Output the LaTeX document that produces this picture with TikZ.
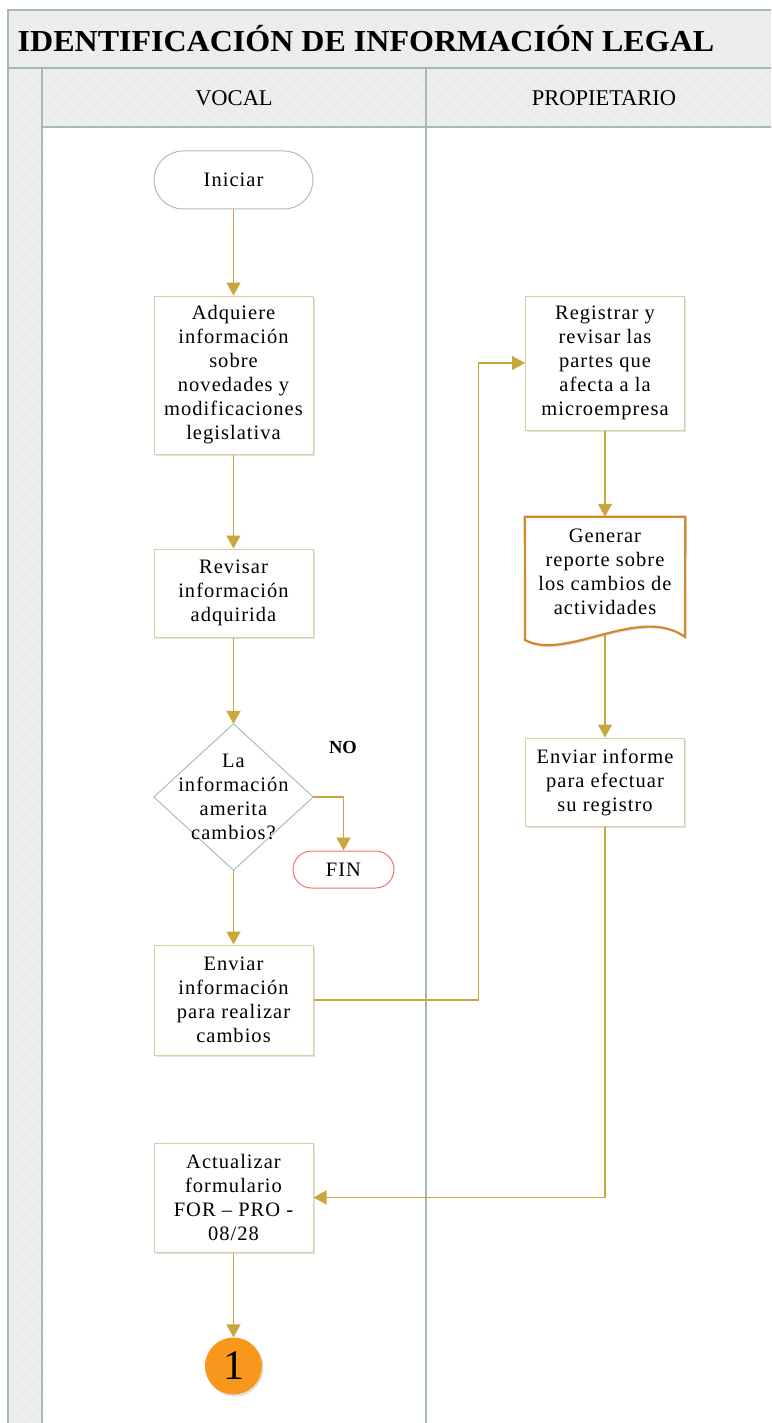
\documentclass[tikz,border=0pt]{standalone}
\usepackage{fontspec}
\setmainfont{Liberation Serif}
\newfontfamily\bodyfont{Liberation Serif}[LetterSpace=5]
\usetikzlibrary{arrows.meta,shadows,calc}
\definecolor{framec}{HTML}{A3BBB3}
\definecolor{headc}{HTML}{ECECEC}
\definecolor{linkc}{HTML}{C9A73D}
\definecolor{boxc}{HTML}{D9CDA3}
\definecolor{termc}{HTML}{A9BFB8}
\definecolor{finc}{HTML}{F07272}
\definecolor{docc}{HTML}{D38A2C}
\definecolor{conc}{HTML}{F7981D}
\tikzset{
  frameline/.style={draw=framec,line width=1.2pt},
  softshadow/.style={drop shadow={opacity=0.22,shadow xshift=1.6pt,shadow yshift=-1.8pt}},
  bodytext/.style={font=\bodyfont\fontsize{20.5}{24}\selectfont,align=center,text=black},
  stepbox/.style={bodytext,rectangle,draw=boxc,line width=1pt,fill=white,
    minimum width=159pt,inner sep=0pt,softshadow},
  terminal/.style={bodytext,rectangle,draw=termc,line width=1pt,fill=white,
    minimum width=159pt,minimum height=58pt,rounded corners=29pt,inner sep=0pt},
  finbox/.style={bodytext,rectangle,draw=finc,line width=1pt,fill=white,
    minimum width=101pt,minimum height=37pt,rounded corners=18.5pt,inner sep=0pt},
  decision/.style={bodytext,rectangle,minimum width=159pt,minimum height=146pt,inner sep=0pt},
  link/.style={draw=linkc,line width=1.6pt,-{Triangle[width=14pt,length=13pt]}},
}
\begin{document}
\begin{tikzpicture}[x=1pt,y=-1pt]
\clip (0,0) rectangle (771,1423);
\fill[white] (0,0) rectangle (771,1423);

% pool frame, title bar, header row and lane strip
\fill[headc] (8,10) rectangle (790,68);
\fill[headc] (8,68) rectangle (42,1440);
\fill[headc] (42,68) rectangle (790,127);
\begin{scope}
  \clip (8,10) rectangle (790,68);
  \foreach \k in {-80,-64,...,800} \draw[white,opacity=0.35,line width=0.8pt] (\k,10) -- ++(60,60);
\end{scope}
\begin{scope}
  \clip (8,68) rectangle (790,127) (8,127) rectangle (42,1440);
  \foreach \k in {-1500,-1484,...,800} \draw[white,opacity=0.35,line width=0.8pt] (\k,68) -- ++(1400,1400);
\end{scope}
\draw[frameline] (790,10) -- (8,10) -- (8,1440);
\draw[frameline] (8,68) -- (790,68);
\draw[frameline] (42,68) -- (42,1440);
\draw[frameline] (426,68) -- (426,1440);
\draw[frameline] (42,127) -- (790,127);

\node[font=\bfseries\fontsize{30.5}{34}\selectfont] (title) at (366,39) {\scalebox{1.05}[1]{IDENTIFICACIÓN DE INFORMACIÓN LEGAL}};
\node[font=\fontsize{22.5}{26}\selectfont] (lane1) at (234,98) {VOCAL};
\node[font=\fontsize{22.5}{26}\selectfont] (lane2) at (604,98) {PROPIETARIO};

% VOCAL lane
\node[terminal] (ini) at (233.5,180) {Iniciar};
\node[stepbox,minimum height=158pt] (adq) at (233.5,375)
  {Adquiere\\información\\sobre\\novedades y\\modificaciones\\legislativa};
\node[stepbox,minimum height=88pt] (rev) at (233.5,593)
  {Revisar\\información\\adquirida};
\node[decision] (dia) at (233.5,797) {};
\draw[draw=termc,line width=1pt,fill=white] (dia.north) -- (dia.east) -- (dia.south) -- (dia.west) -- cycle;
\node[bodytext] (diatext) at (dia.center) {La\\información\\amerita\\cambios?};
\node[font=\bfseries\fontsize{18.5}{20}\selectfont] (no) at (343,747) {NO};
\node[finbox] (fin) at (343.5,869.5) {FIN};
\node[stepbox,minimum height=110pt] (env) at (233.5,1000)
  {Enviar\\información\\para realizar\\cambios};
\node[stepbox,minimum height=109pt] (act) at (233.5,1197.5)
  {Actualizar\\formulario\\FOR – PRO -\\08/28};
\node[circle,fill=conc,minimum size=57pt,inner sep=0pt,
  drop shadow={opacity=0.25,shadow xshift=1.5pt,shadow yshift=-2pt},
  font=\fontsize{42}{46}\selectfont] (one) at (233.5,1366) {1};

% PROPIETARIO lane
\node[stepbox,minimum height=134pt] (reg) at (605,363)
  {Registrar y\\revisar las\\partes que\\afecta a la\\microempresa};
\node[bodytext,minimum width=160pt,minimum height=113pt,inner sep=0pt] (gen) at (605,573.5) {};
\fill[black,opacity=0.15] ([shift={(1.6,1.8)}]gen.north west) -- ([shift={(1.6,1.8)}]gen.north east)
  -- (686.6,638.8) .. controls (641.6,605.8) and (566.6,663.8) .. (526.6,641.8) -- cycle;
\draw[draw=docc,line width=2.2pt,fill=white] (gen.north west) -- (gen.north east) -- (685,637)
  .. controls (640,604) and (565,662) .. (525,640) -- cycle;
\node[bodytext] (gentext) at (605,572)
  {Generar\\reporte sobre\\los cambios de\\actividades};
\node[stepbox,minimum height=88pt] (inf) at (605,782)
  {Enviar informe\\para efectuar\\su registro};

% connectors
\draw[link] (ini.south) -- (adq.north);
\draw[link] (adq.south) -- (rev.north);
\draw[link] (rev.south) -- (dia.north);
\draw[link] (dia.east) -| (fin.north);
\draw[link] (dia.south) -- (env.north);
\draw[link] (env.east) -- ++(165,0) |- (reg.west);
\draw[link] (reg.south) -- (gen.north);
\draw[link] ($(gen.south)+(0,5)$) -- (inf.north);
\draw[link] (inf.south) |- (act.east);
\draw[link] (act.south) -- (one.north);
\end{tikzpicture}
\end{document}
